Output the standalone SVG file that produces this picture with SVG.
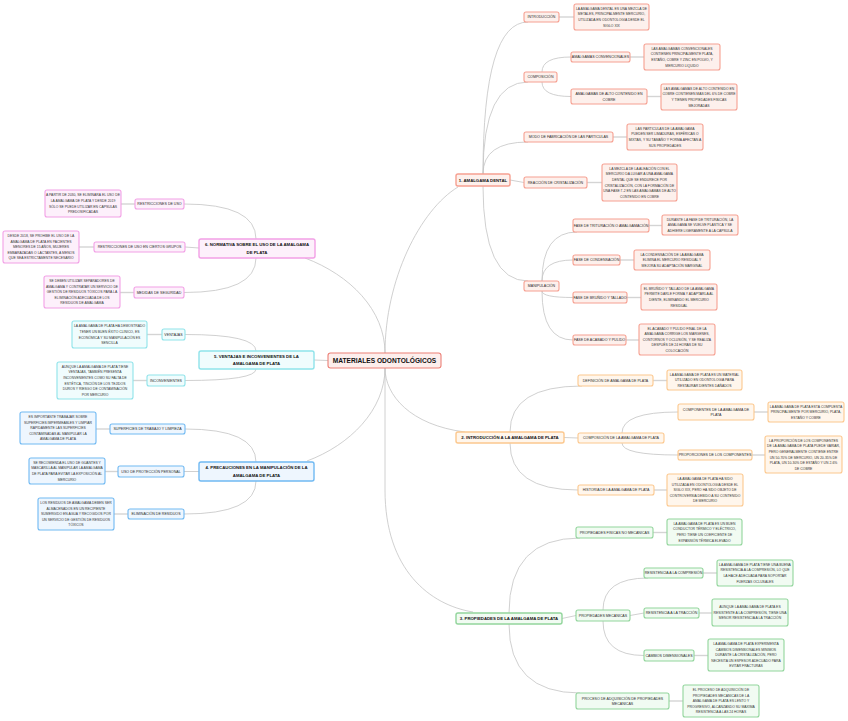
<svg xmlns="http://www.w3.org/2000/svg" width="848" height="721" viewBox="0 0 848 721">
<style>
text{font-family:"Liberation Sans",Arial,sans-serif;text-anchor:middle;fill:#2a2a2a}
.m{font-size:6.6px;font-weight:bold;fill:#111}
.b{font-size:4.3px;font-weight:bold;fill:#111}
.c{font-size:3.6px}
.d{font-size:3.4px;fill:#333}
rect{stroke-width:1.1}
.bt{stroke-width:1.4}
.r rect{fill:#fdf0ec;stroke:#f6a091}
.o rect{fill:#fff6ec;stroke:#fcc88e}
.g rect{fill:#f1fbf2;stroke:#92d59c}
.bl rect{fill:#eef6fe;stroke:#70b9f2}
.cy rect{fill:#f0fcfd;stroke:#8fe3ea}
.p rect{fill:#fdf0fb;stroke:#f2a0e6}
#conn path{fill:none;stroke:#c4c4c4;stroke-width:0.8}
#conn .l{stroke:#d4d4d4;stroke-width:1.4}
</style>
<rect width="848" height="721" fill="#fff"/>
<g id="conn">
<path d="M385 353 C385 280 420 210 458 187"/>
<path d="M385 353 C385 310 350 275 305 258"/>
<path d="M328 360.5 L314 360"/>
<path d="M385 368 C385 395 410 425 465 432"/>
<path d="M385 368 C385 410 350 445 307 461"/>
<path d="M385 368 L385 490 C385 570 430 605 473 612"/>
<path d="M483 174 Q483 22 528 22"/>
<path d="M483 174 Q483 82 528 82"/>
<path d="M483 174 Q483 142 528 142"/>
<path d="M510 180 L524 182.5"/>
<path d="M483 186 Q483 281 528 281"/>
<path d="M542 72 Q542 57 571 57"/>
<path d="M542 82 Q542 96.5 571 96.5"/>
<path d="M542 281 Q542 232 577 232"/>
<path d="M542 281 Q542 260 573 260"/>
<path d="M542 291 Q542 297.5 573 297.5"/>
<path d="M542 291 Q542 340 573 340"/>
<path d="M510 432 Q510 386 582 386"/>
<path d="M564 437.5 L578 438"/>
<path d="M510 443 Q510 490 578 490"/>
<path d="M622 433 Q622 412 678 412"/>
<path d="M622 443 Q622 455 678 455"/>
<path d="M509 613 Q509 538 580 538"/>
<path d="M562 618.5 L576 615.5"/>
<path d="M509 624 Q509 693 580 693"/>
<path d="M603 610 Q603 578 648 578"/>
<path d="M630 615.5 L644 613"/>
<path d="M603 621 Q603 655.5 644 655.5"/>
<path d="M256 239 Q256 204 184 204"/>
<path d="M185 247 L199 248"/>
<path d="M256 258 Q256 292.5 184 292.5"/>
<path d="M256 351 Q256 334.5 185 334.5"/>
<path d="M256 369 Q256 380.5 185 380.5"/>
<path d="M256 462 Q256 429 185 429"/>
<path d="M184 471.5 L199 471.5"/>
<path d="M256 481 Q256 514 184 514"/>
<path class="l" d="M559 17 H574"/>
<path class="l" d="M630 57 H644"/>
<path class="l" d="M647 96.5 H661"/>
<path class="l" d="M613 137 H627"/>
<path class="l" d="M587 182.5 H602"/>
<path class="l" d="M649 225.5 H662"/>
<path class="l" d="M620 260 H634"/>
<path class="l" d="M627 297.5 H641"/>
<path class="l" d="M626 340 H639"/>
<path class="l" d="M653 380.5 H667"/>
<path class="l" d="M754 412 H768"/>
<path class="l" d="M752 455 H765"/>
<path class="l" d="M654 490 H667"/>
<path class="l" d="M653 532.5 H667"/>
<path class="l" d="M703 573 H717"/>
<path class="l" d="M699 613 H712"/>
<path class="l" d="M694 655.5 H708"/>
<path class="l" d="M669 701 H683"/>
<path class="l" d="M121 204 H135"/>
<path class="l" d="M79 247 H94"/>
<path class="l" d="M120 292.5 H134"/>
<path class="l" d="M147 334.5 H162"/>
<path class="l" d="M133 380.5 H147"/>
<path class="l" d="M96 429 H110"/>
<path class="l" d="M105 471.5 H118"/>
<path class="l" d="M114 514 H128"/>
</g>

<g id="center"><rect x="328" y="353" width="113" height="15" rx="2.5" fill="#fdeeec" stroke="#ec8077" stroke-width="1.6"/><text class="m" x="384.5" y="362.8">MATERIALES ODONTOLÓGICOS</text></g>

<g id="b1" class="r"><rect class="bt" x="456" y="174" width="54" height="12" rx="2"/><text class="b" x="483" y="181.5">1. AMALGAMA DENTAL</text></g>
<g id="b1-intro" class="r"><rect x="524" y="12" width="35" height="10" rx="2"/><text class="c" x="541.5" y="18.3">INTRODUCCIÓN</text></g>
<g id="b1-intro-d" class="r"><rect x="574" y="4" width="75" height="26" rx="2"/><text class="d" x="611.5" y="9.8">LA AMALGAMA DENTAL ES UNA MEZCLA DE<tspan x="611.5" dy="5.6">METALES, PRINCIPALMENTE MERCURIO,</tspan><tspan x="611.5" dy="5.6">UTILIZADA EN ODONTOLOGÍA DESDE EL</tspan><tspan x="611.5" dy="5.6">SIGLO XIX</tspan></text></g>
<g id="b1-comp" class="r"><rect x="524" y="72" width="33" height="10" rx="2"/><text class="c" x="540.5" y="78.3">COMPOSICIÓN</text></g>
<g id="b1-conv" class="r"><rect x="571" y="52" width="59" height="10" rx="2"/><text class="c" x="600.5" y="58.3">AMALGAMAS CONVENCIONALES</text></g>
<g id="b1-conv-d" class="r"><rect x="644" y="44" width="76" height="26" rx="2"/><text class="d" x="682" y="49.8">LAS AMALGAMAS CONVENCIONALES<tspan x="682" dy="5.6">CONTIENEN PRINCIPALMENTE PLATA,</tspan><tspan x="682" dy="5.6">ESTAÑO, COBRE Y ZINC EN POLVO, Y</tspan><tspan x="682" dy="5.6">MERCURIO LÍQUIDO</tspan></text></g>
<g id="b1-alto" class="r"><rect x="571" y="89" width="76" height="15" rx="2"/><text class="c" x="609" y="95.1">AMALGAMAS DE ALTO CONTENIDO EN<tspan x="609" dy="5.4">COBRE</tspan></text></g>
<g id="b1-alto-d" class="r"><rect x="661" y="84" width="76" height="26" rx="2"/><text class="d" x="699" y="89.8">LAS AMALGAMAS DE ALTO CONTENIDO EN<tspan x="699" dy="5.6">COBRE CONTIENEN MÁS DEL 6% DE COBRE</tspan><tspan x="699" dy="5.6">Y TIENEN PROPIEDADES FÍSICAS</tspan><tspan x="699" dy="5.6">MEJORADAS</tspan></text></g>
<g id="b1-modo" class="r"><rect x="524" y="132" width="89" height="10" rx="2"/><text class="c" x="568.5" y="138.3">MODO DE FABRICACIÓN DE LAS PARTÍCULAS</text></g>
<g id="b1-modo-d" class="r"><rect x="627" y="124" width="76" height="26" rx="2"/><text class="d" x="665" y="129.8">LAS PARTÍCULAS DE LA AMALGAMA<tspan x="665" dy="5.6">PUEDEN SER LIMADURAS, ESFÉRICAS O</tspan><tspan x="665" dy="5.6">MIXTAS, Y SU TAMAÑO Y FORMA AFECTAN A</tspan><tspan x="665" dy="5.6">SUS PROPIEDADES</tspan></text></g>
<g id="b1-reac" class="r"><rect x="524" y="177" width="63" height="11" rx="2"/><text class="c" x="555.5" y="183.8">REACCIÓN DE CRISTALIZACIÓN</text></g>
<g id="b1-reac-d" class="r"><rect x="602" y="164" width="75" height="37" rx="2"/><text class="d" x="639.5" y="169.7">LA MEZCLA DE LA ALEACIÓN CON EL<tspan x="639.5" dy="5.6">MERCURIO DA LUGAR A UNA AMALGAMA</tspan><tspan x="639.5" dy="5.6">DENTAL QUE SE ENDURECE POR</tspan><tspan x="639.5" dy="5.6">CRISTALIZACIÓN, CON LA FORMACIÓN DE</tspan><tspan x="639.5" dy="5.6">UNA FASE Γ-2 EN LAS AMALGAMAS DE ALTO</tspan><tspan x="639.5" dy="5.6">CONTENIDO EN COBRE</tspan></text></g>
<g id="b1-manip" class="r"><rect x="524" y="281" width="35" height="10" rx="2"/><text class="c" x="541.5" y="287.3">MANIPULACIÓN</text></g>
<g id="b1-trit" class="r"><rect x="573" y="219" width="76" height="13" rx="2"/><text class="c" x="611" y="226.8">FASE DE TRITURACIÓN O AMALGAMACIÓN</text></g>
<g id="b1-trit-d" class="r"><rect x="662" y="215" width="76" height="20" rx="2"/><text class="d" x="700" y="220.6">DURANTE LA FASE DE TRITURACIÓN, LA<tspan x="700" dy="5.6">AMALGAMA SE VUELVE PLÁSTICA Y SE</tspan><tspan x="700" dy="5.6">ADHIERE LIGERAMENTE A LA CÁPSULA</tspan></text></g>
<g id="b1-cond" class="r"><rect x="573" y="255" width="47" height="10" rx="2"/><text class="c" x="596.5" y="261.3">FASE DE CONDENSACIÓN</text></g>
<g id="b1-cond-d" class="r"><rect x="634" y="250" width="76" height="20" rx="2"/><text class="d" x="672" y="255.6">LA CONDENSACIÓN DE LA AMALGAMA<tspan x="672" dy="5.6">ELIMINA EL MERCURIO RESIDUAL Y</tspan><tspan x="672" dy="5.6">MEJORA SU ADAPTACIÓN MARGINAL</tspan></text></g>
<g id="b1-brun" class="r"><rect x="573" y="292" width="54" height="11" rx="2"/><text class="c" x="600" y="298.8">FASE DE BRUÑIDO Y TALLADO</text></g>
<g id="b1-brun-d" class="r"><rect x="641" y="284" width="76" height="26" rx="2"/><text class="d" x="679" y="289.8">EL BRUÑIDO Y TALLADO DE LA AMALGAMA<tspan x="679" dy="5.6">PERMITE DARLE FORMA Y ADAPTARLA AL</tspan><tspan x="679" dy="5.6">DIENTE, ELIMINANDO EL MERCURIO</tspan><tspan x="679" dy="5.6">RESIDUAL</tspan></text></g>
<g id="b1-acab" class="r"><rect x="573" y="335" width="53" height="10" rx="2"/><text class="c" x="599.5" y="341.3">FASE DE ACABADO Y PULIDO</text></g>
<g id="b1-acab-d" class="r"><rect x="639" y="324" width="76" height="31" rx="2"/><text class="d" x="677" y="329.5">EL ACABADO Y PULIDO FINAL DE LA<tspan x="677" dy="5.6">AMALGAMA CORRIGE LOS MÁRGENES,</tspan><tspan x="677" dy="5.6">CONTORNOS Y OCLUSIÓN, Y SE REALIZA</tspan><tspan x="677" dy="5.6">DESPUÉS DE 24 HORAS DE SU</tspan><tspan x="677" dy="5.6">COLOCACIÓN</tspan></text></g>

<g id="b2" class="o"><rect class="bt" x="456" y="432" width="108" height="11" rx="2"/><text class="b" x="510" y="439">2. INTRODUCCIÓN A LA AMALGAMA DE PLATA</text></g>
<g id="b2-def" class="o"><rect x="578" y="375" width="75" height="11" rx="2"/><text class="c" x="615.5" y="381.8">DEFINICIÓN DE AMALGAMA DE PLATA</text></g>
<g id="b2-def-d" class="o"><rect x="667" y="370" width="75" height="20" rx="2"/><text class="d" x="704.5" y="375.6">LA AMALGAMA DE PLATA ES UN MATERIAL<tspan x="704.5" dy="5.6">UTILIZADO EN ODONTOLOGÍA PARA</tspan><tspan x="704.5" dy="5.6">RESTAURAR DIENTES DAÑADOS</tspan></text></g>
<g id="b2-comp" class="o"><rect x="578" y="433" width="86" height="10" rx="2"/><text class="c" x="621" y="439.3">COMPOSICIÓN DE LA AMALGAMA DE PLATA</text></g>
<g id="b2-compo" class="o"><rect x="678" y="404" width="76" height="16" rx="2"/><text class="c" x="716" y="410.6">COMPONENTES DE LA AMALGAMA DE<tspan x="716" dy="5.4">PLATA</tspan></text></g>
<g id="b2-compo-d" class="o"><rect x="768" y="402" width="76" height="20" rx="2"/><text class="d" x="806" y="407.6">LA AMALGAMA DE PLATA ESTÁ COMPUESTA<tspan x="806" dy="5.6">PRINCIPALMENTE POR MERCURIO, PLATA,</tspan><tspan x="806" dy="5.6">ESTAÑO Y COBRE</tspan></text></g>
<g id="b2-prop" class="o"><rect x="678" y="450" width="74" height="10" rx="2"/><text class="c" x="715" y="456.3">PROPORCIONES DE LOS COMPONENTES</text></g>
<g id="b2-prop-d" class="o"><rect x="765" y="436" width="77" height="37" rx="2"/><text class="d" x="803.5" y="441.7">LA PROPORCIÓN DE LOS COMPONENTES<tspan x="803.5" dy="5.6">DE LA AMALGAMA DE PLATA PUEDE VARIAR,</tspan><tspan x="803.5" dy="5.6">PERO GENERALMENTE CONTIENE ENTRE</tspan><tspan x="803.5" dy="5.6">UN 50-70% DE MERCURIO, UN 20-35% DE</tspan><tspan x="803.5" dy="5.6">PLATA, UN 10-30% DE ESTAÑO Y UN 2-6%</tspan><tspan x="803.5" dy="5.6">DE COBRE</tspan></text></g>
<g id="b2-hist" class="o"><rect x="578" y="485" width="76" height="10" rx="2"/><text class="c" x="616" y="491.3">HISTORIA DE LA AMALGAMA DE PLATA</text></g>
<g id="b2-hist-d" class="o"><rect x="667" y="474" width="76" height="32" rx="2"/><text class="d" x="705" y="480">LA AMALGAMA DE PLATA HA SIDO<tspan x="705" dy="5.6">UTILIZADA EN ODONTOLOGÍA DESDE EL</tspan><tspan x="705" dy="5.6">SIGLO XIX, PERO HA SIDO OBJETO DE</tspan><tspan x="705" dy="5.6">CONTROVERSIA DEBIDO A SU CONTENIDO</tspan><tspan x="705" dy="5.6">DE MERCURIO</tspan></text></g>

<g id="b3" class="g"><rect class="bt" x="456" y="613" width="106" height="11" rx="2"/><text class="b" x="509" y="620">3. PROPIEDADES DE LA AMALGAMA DE PLATA</text></g>
<g id="b3-fis" class="g"><rect x="576" y="527" width="77" height="11" rx="2"/><text class="c" x="614.5" y="533.8">PROPIEDADES FÍSICAS NO MECÁNICAS</text></g>
<g id="b3-fis-d" class="g"><rect x="667" y="519" width="75" height="26" rx="2"/><text class="d" x="704.5" y="524.8">LA AMALGAMA DE PLATA ES UN BUEN<tspan x="704.5" dy="5.6">CONDUCTOR TÉRMICO Y ELÉCTRICO,</tspan><tspan x="704.5" dy="5.6">PERO TIENE UN COEFICIENTE DE</tspan><tspan x="704.5" dy="5.6">EXPANSIÓN TÉRMICA ELEVADO</tspan></text></g>
<g id="b3-mec" class="g"><rect x="576" y="610" width="54" height="11" rx="2"/><text class="c" x="603" y="616.8">PROPIEDADES MECÁNICAS</text></g>
<g id="b3-compr" class="g"><rect x="644" y="568" width="59" height="10" rx="2"/><text class="c" x="673.5" y="574.3">RESISTENCIA A LA COMPRESIÓN</text></g>
<g id="b3-compr-d" class="g"><rect x="717" y="560" width="76" height="26" rx="2"/><text class="d" x="755" y="565.8">LA AMALGAMA DE PLATA TIENE UNA BUENA<tspan x="755" dy="5.6">RESISTENCIA A LA COMPRESIÓN, LO QUE</tspan><tspan x="755" dy="5.6">LA HACE ADECUADA PARA SOPORTAR</tspan><tspan x="755" dy="5.6">FUERZAS OCLUSALES</tspan></text></g>
<g id="b3-trac" class="g"><rect x="644" y="608" width="55" height="10" rx="2"/><text class="c" x="671.5" y="614.3">RESISTENCIA A LA TRACCIÓN</text></g>
<g id="b3-trac-d" class="g"><rect x="712" y="599" width="76" height="27" rx="2"/><text class="d" x="750" y="607.9">AUNQUE LA AMALGAMA DE PLATA ES<tspan x="750" dy="5.6">RESISTENTE A LA COMPRESIÓN, TIENE UNA</tspan><tspan x="750" dy="5.6">MENOR RESISTENCIA A LA TRACCIÓN</tspan></text></g>
<g id="b3-camb" class="g"><rect x="644" y="650" width="50" height="11" rx="2"/><text class="c" x="669" y="656.8">CAMBIOS DIMENSIONALES</text></g>
<g id="b3-camb-d" class="g"><rect x="708" y="639" width="76" height="32" rx="2"/><text class="d" x="746" y="645">LA AMALGAMA DE PLATA EXPERIMENTA<tspan x="746" dy="5.6">CAMBIOS DIMENSIONALES MÍNIMOS</tspan><tspan x="746" dy="5.6">DURANTE LA CRISTALIZACIÓN, PERO</tspan><tspan x="746" dy="5.6">NECESITA UN ESPESOR ADECUADO PARA</tspan><tspan x="746" dy="5.6">EVITAR FRACTURAS</tspan></text></g>
<g id="b3-proc" class="g"><rect x="576" y="693" width="93" height="16" rx="2"/><text class="c" x="622.5" y="699.6">PROCESO DE ADQUISICIÓN DE PROPIEDADES<tspan x="622.5" dy="5.4">MECÁNICAS</tspan></text></g>
<g id="b3-proc-d" class="g"><rect x="683" y="685" width="76" height="32" rx="2"/><text class="d" x="721" y="691">EL PROCESO DE ADQUISICIÓN DE<tspan x="721" dy="5.6">PROPIEDADES MECÁNICAS DE LA</tspan><tspan x="721" dy="5.6">AMALGAMA DE PLATA ES LENTO Y</tspan><tspan x="721" dy="5.6">PROGRESIVO, ALCANZANDO SU MÁXIMA</tspan><tspan x="721" dy="5.6">RESISTENCIA A LAS 24 HORAS</tspan></text></g>

<g id="b6" class="p"><rect class="bt" x="199" y="239" width="116" height="19" rx="2"/><text class="b" x="257" y="246.2">6. NORMATIVA SOBRE EL USO DE LA AMALGAMA<tspan x="257" dy="7.6">DE PLATA</tspan></text></g>
<g id="b6-restr" class="p"><rect x="135" y="199" width="49" height="10" rx="2"/><text class="c" x="159.5" y="205.3">RESTRICCIONES DE USO</text></g>
<g id="b6-restr-d" class="p"><rect x="45" y="190" width="76" height="27" rx="2"/><text class="d" x="83" y="196.3">A PARTIR DE 2030, SE ELIMINARÁ EL USO DE<tspan x="83" dy="5.6">LA AMALGAMA DE PLATA Y DESDE 2019</tspan><tspan x="83" dy="5.6">SÓLO SE PUEDE UTILIZAR EN CÁPSULAS</tspan><tspan x="83" dy="5.6">PREDOSIFICADAS</tspan></text></g>
<g id="b6-grup" class="p"><rect x="94" y="242" width="91" height="10" rx="2"/><text class="c" x="139.5" y="248.3">RESTRICCIONES DE USO EN CIERTOS GRUPOS</text></g>
<g id="b6-grup-d" class="p"><rect x="3" y="231" width="76" height="32" rx="2"/><text class="d" x="41" y="237">DESDE 2018, SE PROHÍBE EL USO DE LA<tspan x="41" dy="5.6">AMALGAMA DE PLATA EN PACIENTES</tspan><tspan x="41" dy="5.6">MENORES DE 15 AÑOS, MUJERES</tspan><tspan x="41" dy="5.6">EMBARAZADAS O LACTANTES, A MENOS</tspan><tspan x="41" dy="5.6">QUE SEA ESTRICTAMENTE NECESARIO</tspan></text></g>
<g id="b6-med" class="p"><rect x="134" y="287" width="50" height="11" rx="2"/><text class="c" x="159" y="293.8">MEDIDAS DE SEGURIDAD</text></g>
<g id="b6-med-d" class="p"><rect x="44" y="276" width="76" height="32" rx="2"/><text class="d" x="82" y="282">SE DEBEN UTILIZAR SEPARADORES DE<tspan x="82" dy="5.6">AMALGAMA Y CONTRATAR UN SERVICIO DE</tspan><tspan x="82" dy="5.6">GESTIÓN DE RESIDUOS TÓXICOS PARA LA</tspan><tspan x="82" dy="5.6">ELIMINACIÓN ADECUADA DE LOS</tspan><tspan x="82" dy="5.6">RESIDUOS DE AMALGAMA</tspan></text></g>

<g id="b5" class="cy"><rect class="bt" x="199" y="351" width="115" height="18" rx="2"/><text class="b" x="256.5" y="357.7">5. VENTAJAS E INCONVENIENTES DE LA<tspan x="256.5" dy="7.6">AMALGAMA DE PLATA</tspan></text></g>
<g id="b5-vent" class="cy"><rect x="162" y="329" width="23" height="11" rx="2"/><text class="c" x="173.5" y="335.8">VENTAJAS</text></g>
<g id="b5-vent-d" class="cy"><rect x="72" y="321" width="75" height="27" rx="2"/><text class="d" x="109.5" y="327.3">LA AMALGAMA DE PLATA HA DEMOSTRADO<tspan x="109.5" dy="5.6">TENER UN BUEN ÉXITO CLÍNICO, ES</tspan><tspan x="109.5" dy="5.6">ECONÓMICA Y SU MANIPULACIÓN ES</tspan><tspan x="109.5" dy="5.6">SENCILLA</tspan></text></g>
<g id="b5-inc" class="cy"><rect x="147" y="375" width="38" height="11" rx="2"/><text class="c" x="166" y="381.8">INCONVENIENTES</text></g>
<g id="b5-inc-d" class="cy"><rect x="57" y="362" width="76" height="37" rx="2"/><text class="d" x="95" y="367.7">AUNQUE LA AMALGAMA DE PLATA TIENE<tspan x="95" dy="5.6">VENTAJAS, TAMBIÉN PRESENTA</tspan><tspan x="95" dy="5.6">INCONVENIENTES COMO SU FALTA DE</tspan><tspan x="95" dy="5.6">ESTÉTICA, TINCIÓN DE LOS TEJIDOS</tspan><tspan x="95" dy="5.6">DUROS Y RIESGO DE CONTAMINACIÓN</tspan><tspan x="95" dy="5.6">POR MERCURIO</tspan></text></g>

<g id="b4" class="bl"><rect class="bt" x="199" y="462" width="115" height="19" rx="2"/><text class="b" x="256.5" y="469.2">4. PRECAUCIONES EN LA MANIPULACIÓN DE LA<tspan x="256.5" dy="7.6">AMALGAMA DE PLATA</tspan></text></g>
<g id="b4-sup" class="bl"><rect x="110" y="424" width="75" height="10" rx="2"/><text class="c" x="147.5" y="430.3">SUPERFICIES DE TRABAJO Y LIMPIEZA</text></g>
<g id="b4-sup-d" class="bl"><rect x="20" y="412" width="76" height="32" rx="2"/><text class="d" x="58" y="418">ES IMPORTANTE TRABAJAR SOBRE<tspan x="58" dy="5.6">SUPERFICIES IMPERMEABLES Y LIMPIAR</tspan><tspan x="58" dy="5.6">RÁPIDAMENTE LAS SUPERFICIES</tspan><tspan x="58" dy="5.6">CONTAMINADAS AL MANIPULAR LA</tspan><tspan x="58" dy="5.6">AMALGAMA DE PLATA</tspan></text></g>
<g id="b4-prot" class="bl"><rect x="118" y="466" width="66" height="11" rx="2"/><text class="c" x="151" y="472.8">USO DE PROTECCIÓN PERSONAL</text></g>
<g id="b4-prot-d" class="bl"><rect x="29" y="458" width="76" height="26" rx="2"/><text class="d" x="67" y="463.8">SE RECOMIENDA EL USO DE GUANTES Y<tspan x="67" dy="5.6">MASCARILLA AL MANIPULAR LA AMALGAMA</tspan><tspan x="67" dy="5.6">DE PLATA PARA EVITAR LA EXPOSICIÓN AL</tspan><tspan x="67" dy="5.6">MERCURIO</tspan></text></g>
<g id="b4-elim" class="bl"><rect x="128" y="509" width="56" height="10" rx="2"/><text class="c" x="156" y="515.3">ELIMINACIÓN DE RESIDUOS</text></g>
<g id="b4-elim-d" class="bl"><rect x="38" y="498" width="76" height="32" rx="2"/><text class="d" x="76" y="504">LOS RESIDUOS DE AMALGAMA DEBEN SER<tspan x="76" dy="5.6">ALMACENADOS EN UN RECIPIENTE</tspan><tspan x="76" dy="5.6">SUMERGIDO EN AGUA Y RECOGIDOS POR</tspan><tspan x="76" dy="5.6">UN SERVICIO DE GESTIÓN DE RESIDUOS</tspan><tspan x="76" dy="5.6">TÓXICOS</tspan></text></g>
</svg>
